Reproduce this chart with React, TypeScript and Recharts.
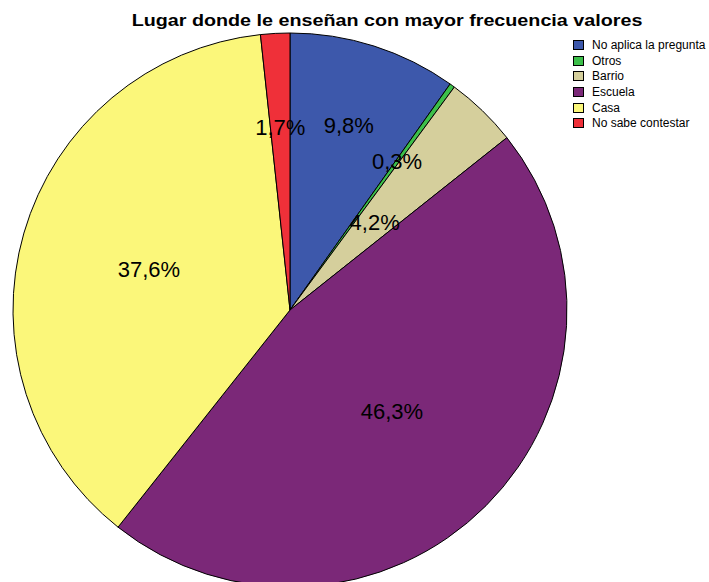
import React from "react"
import { PieChart, Pie, Cell, Legend } from "recharts"

const categories = ["No aplica la pregunta", "Otros", "Barrio", "Escuela", "Casa", "No sabe contestar"]
const percents = [9.8, 0.3, 4.2, 46.3, 37.6, 1.7]
const colors = ["#3d58ab", "#3cbf4a", "#d5cf9c", "#7b2878", "#fbf77a", "#ef3039"]
// label distance from centre, as a share of the radius (SPSS places them unevenly)
const labelRadius = [0.7, 0.66, 0.44, 0.52, 0.53, 0.66]

const data = categories.map((name, i) => ({ name, value: percents[i] }))

const RADIAN = Math.PI / 180
const FONT = "Liberation Sans, Arial, sans-serif"

function renderLabel(props: any) {
  const { cx, cy, midAngle, outerRadius, index, value } = props
  const r = outerRadius * labelRadius[index]
  const x = cx + r * Math.cos(-midAngle * RADIAN)
  const y = cy + r * Math.sin(-midAngle * RADIAN)
  return (
    <text
      x={x}
      y={y}
      textAnchor="middle"
      dominantBaseline="central"
      fill="#000"
      fontSize={22}
      fontFamily={FONT}
    >
      {value.toFixed(1).replace(".", ",")}%
    </text>
  )
}

function LegendBox() {
  return (
    <div style={{ fontFamily: FONT, fontSize: 12, color: "#000" }}>
      {data.map((d, i) => (
        <div key={d.name} style={{ display: "flex", alignItems: "center", height: 15.7, whiteSpace: "nowrap" }}>
          <span
            style={{
              display: "inline-block",
              width: 9,
              height: 8,
              background: colors[i],
              border: "1px solid #000",
              marginRight: 8,
            }}
          />
          {d.name}
        </div>
      ))}
    </div>
  )
}

export default function App() {
  return (
    <div style={{ width: 709, height: 582, position: "relative", background: "#fff", overflow: "hidden" }}>
      <style>{`body{margin:0}`}</style>
      <div
        style={{
          position: "absolute",
          top: 11,
          left: 387,
          transform: "translateX(-50%) scaleX(1.16)",
          whiteSpace: "nowrap",
          fontFamily: FONT,
          fontWeight: "bold",
          fontSize: 17,
          color: "#000",
        }}
      >
        Lugar donde le enseñan con mayor frecuencia valores
      </div>
      <PieChart
        width={709}
        height={582}
        margin={{ top: 0, right: 0, bottom: 0, left: 0 }}
        style={{ position: "absolute", top: 0, left: 0 }}
      >
        <Pie
          data={data}
          dataKey="value"
          nameKey="name"
          cx={290}
          cy={310}
          outerRadius={277}
          startAngle={90}
          endAngle={-270}
          stroke="#000"
          strokeWidth={1}
          label={renderLabel}
          labelLine={false}
          isAnimationActive={false}
        >
          {data.map((d, i) => (
            <Cell key={d.name} fill={colors[i]} />
          ))}
        </Pie>
        <Legend
          layout="vertical"
          verticalAlign="top"
          align="right"
          wrapperStyle={{ top: 37, left: 573, width: 136 }}
          content={() => <LegendBox />}
        />
      </PieChart>
    </div>
  )
}
